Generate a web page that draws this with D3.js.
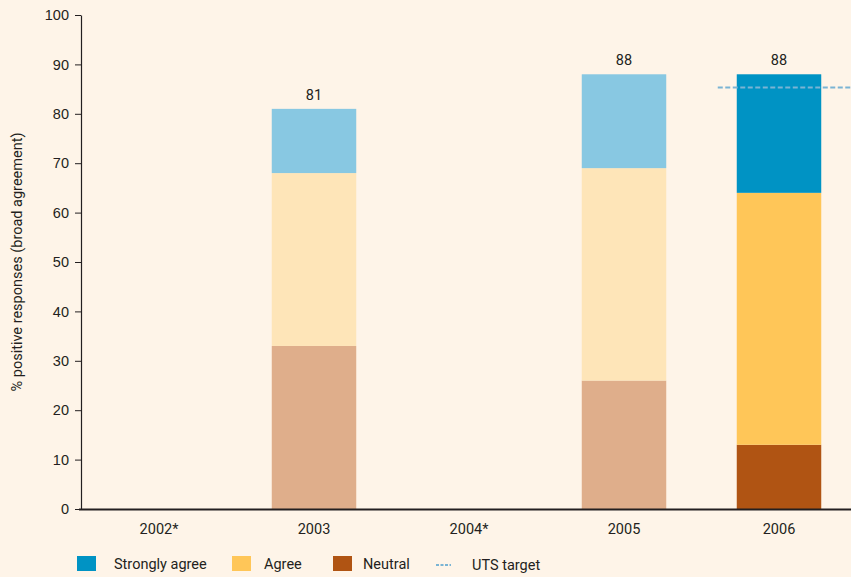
<!DOCTYPE html>
<html><head><meta charset="utf-8">
<script src="https://cdn.jsdelivr.net/npm/d3@7"></script>
<style>body{margin:0;background:#FEF4E8;}svg{display:block;font-family:Roboto, "DejaVu Sans", sans-serif;}</style>
</head><body>
<script>
const categories = ["2002*","2003","2004*","2005","2006"];
const neutral = [null,33,null,26,13];
const agree = [null,35,null,43,51];
const stronglyAgree = [null,13,null,19,24];
const totals = [null,81,null,88,88];
const target = 85.3;
const yTicks = [0,10,20,30,40,50,60,70,80,90,100];
const seriesNames = ["Strongly agree","Agree","Neutral","UTS target"];

const W=851,H=577;
const svg=d3.select("body").append("svg").attr("width",W).attr("height",H);
svg.append("rect").attr("width",W).attr("height",H).attr("fill","#FEF4E8");

const x=d3.scaleBand().domain(categories).range([81.5,856.5]).paddingInner(0.455).paddingOuter(0.2275);
const y=d3.scaleLinear().domain([0,100]).range([509,15]);

const light={s:"#88C8E2",a:"#FEE5B8",n:"#DFAE8B"};
const dark={s:"#0093C4",a:"#FFC658",n:"#B05413"};
const FS=14.5;

categories.forEach((c,i)=>{
  if(neutral[i]==null) return;
  const pal = i===categories.length-1?dark:light;
  const segs=[[neutral[i],pal.n],[agree[i],pal.a],[stronglyAgree[i],pal.s]];
  let base=0;
  segs.forEach(([v,col])=>{
    svg.append("rect").attr("x",x(c)).attr("width",x.bandwidth())
      .attr("y",y(base+v)).attr("height",y(base)-y(base+v)).attr("fill",col);
    base+=v;
  });
  svg.append("text").attr("x",x(c)+x.bandwidth()/2).attr("y",y(totals[i])-9)
    .attr("text-anchor","middle").attr("font-size",FS).attr("fill","#231F20").text(totals[i]);
});

// target line
const lastC=categories[categories.length-1];
svg.append("line").attr("x1",x(lastC)-19).attr("x2",W).attr("y1",y(target)).attr("y2",y(target))
  .attr("stroke","#7AB4D4").attr("stroke-width",2).attr("stroke-dasharray","5,2.5");

// axes
const yAxis=svg.append("g").attr("transform","translate(81,0)")
  .call(d3.axisLeft(y).tickValues(yTicks).tickSize(6).tickPadding(6).tickSizeOuter(0));
yAxis.select(".domain").attr("stroke","#231F20").attr("stroke-width",1.2);
yAxis.selectAll(".tick line").attr("stroke","#231F20");
yAxis.selectAll("text").attr("font-size",FS).attr("fill","#231F20");

svg.append("line").attr("x1",79).attr("x2",W).attr("y1",y(0)+0.5).attr("y2",y(0)+0.5)
  .attr("stroke","#231F20").attr("stroke-width",2);
svg.selectAll(".xl").data(categories).enter().append("text")
  .attr("x",d=>x(d)+x.bandwidth()/2).attr("y",534).attr("text-anchor","middle")
  .attr("font-size",FS).attr("fill","#231F20").text(d=>d);

svg.append("text").attr("transform","translate(22,262) rotate(-90)").attr("text-anchor","middle")
  .attr("font-size",FS).attr("fill","#231F20").text("% positive responses (broad agreement)");

// legend
const swatches=[{n:seriesNames[0],c:dark.s,x:77,tx:114},{n:seriesNames[1],c:dark.a,x:232,tx:264},{n:seriesNames[2],c:dark.n,x:333,tx:363}];
swatches.forEach(d=>{
  svg.append("rect").attr("x",d.x).attr("y",556).attr("width",19).attr("height",15).attr("fill",d.c);
  svg.append("text").attr("x",d.tx).attr("y",569).attr("font-size",FS).attr("fill","#231F20").text(d.n);
});
svg.append("line").attr("x1",436).attr("x2",451).attr("y1",565).attr("y2",565)
  .attr("stroke","#7AB4D4").attr("stroke-width",2).attr("stroke-dasharray","3,1.5");
svg.append("text").attr("x",472).attr("y",570).attr("font-size",FS).attr("fill","#231F20").text(seriesNames[3]);
</script>
</body></html>
